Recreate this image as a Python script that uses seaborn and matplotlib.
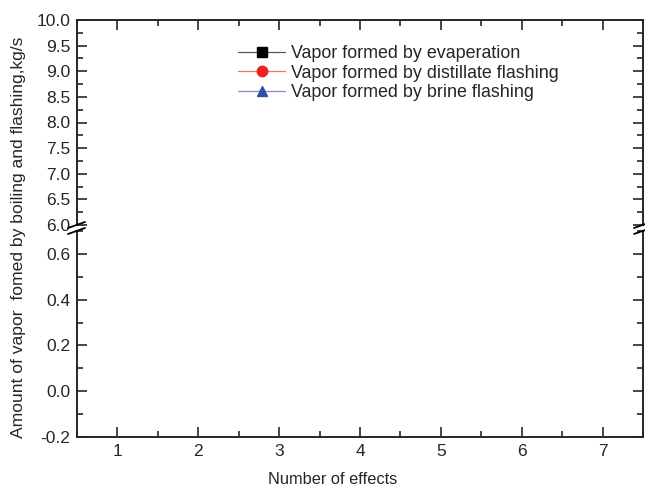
import matplotlib
matplotlib.use("Agg")
import matplotlib.pyplot as plt
import seaborn as sns
from matplotlib.ticker import MultipleLocator

# ---- data (no data points are visible in the reference chart) ----
effects = [1, 2, 3, 4, 5, 6, 7]
vapor_evaporation = []          # kg/s
vapor_distillate_flashing = []  # kg/s
vapor_brine_flashing = []       # kg/s
series_labels = ["Vapor formed by evaperation",
                 "Vapor formed by distillate flashing",
                 "Vapor formed by brine flashing"]
x_label = "Number of effects"
y_label = "Amount of vapor  fomed by boiling and flashing,kg/s"

sns.set_style("ticks")
plt.rcParams['font.family'] = ['Liberation Sans', 'DejaVu Sans']

W, H = 645, 487
fig = plt.figure(figsize=(W / 100, H / 100), dpi=100)

def fx(px):
    return px / W

def fy(py):
    return 1 - py / H

left, right = 77, 643
top_u, bot_u = 20, 225
top_l, bot_l = 231, 437
ax_u = fig.add_axes([fx(left), fy(bot_u), fx(right - left), fy(top_u) - fy(bot_u)])
ax_l = fig.add_axes([fx(left), fy(bot_l), fx(right - left), fy(top_l) - fy(bot_l)])

styles = [
    dict(mfc="#000000", marker="s", ms=6.5, lc="#555555"),
    dict(mfc="#ee2222", marker="o", ms=7.5, lc="#f07070"),
    dict(mfc="#3050a8", marker="^", ms=7.5, lc="#7d8fce"),
]
series = [vapor_evaporation, vapor_distillate_flashing, vapor_brine_flashing]
handles = []
for vals, lab, st in zip(series, series_labels, styles):
    xs = effects[:len(vals)]
    for ax in (ax_u, ax_l):
        h, = ax.plot(xs, vals, color=st["lc"], lw=0.9, marker=st["marker"],
                     mfc=st["mfc"], mec=st["mfc"], ms=st["ms"], label=lab)
    handles.append(h)

for ax in (ax_u, ax_l):
    ax.set_xlim(0.5, 7.5)
    ax.xaxis.set_major_locator(MultipleLocator(1))
    ax.xaxis.set_minor_locator(MultipleLocator(0.5))
    ax.tick_params(which="both", direction="in", top=True, right=True,
                   width=1.2, labelsize=12.5, pad=5)
    ax.tick_params(which="major", length=7)
    ax.tick_params(which="minor", length=4)
    for s in ax.spines.values():
        s.set_linewidth(1.4)
    ax.set_facecolor("none")

ax_u.set_ylim(6.0, 10.0)
ax_u.yaxis.set_major_locator(MultipleLocator(0.5))
ax_u.yaxis.set_minor_locator(MultipleLocator(0.25))
ax_u.yaxis.set_major_formatter(plt.FormatStrFormatter("%.1f"))
ax_u.spines["bottom"].set_visible(False)
ax_u.tick_params(which="both", bottom=False, labelbottom=False)

ax_l.set_ylim(-0.2, 0.7)
ax_l.yaxis.set_major_locator(MultipleLocator(0.2))
ax_l.yaxis.set_minor_locator(MultipleLocator(0.1))
ax_l.yaxis.set_major_formatter(plt.FormatStrFormatter("%.1f"))
ax_l.spines["top"].set_visible(False)
ax_l.tick_params(which="both", top=False)

fig.text(fx(333), fy(480), x_label, ha="center", va="center", fontsize=11.8)
fig.text(fx(19), fy(237), y_label, rotation=90, ha="center", va="center",
         fontsize=12.6)

# break marks on left and right spines
for xc in (left, right):
    for yc in (bot_u, top_l):
        fig.add_artist(plt.Line2D([fx(xc - 9), fx(xc + 8)],
                                  [fy(yc + 3), fy(yc - 3)],
                                  color="black", lw=1.3,
                                  transform=fig.transFigure))

ax_u.legend(handles=handles, labels=series_labels, loc="upper left",
            bbox_to_anchor=(fx(238), fy(45)), bbox_transform=fig.transFigure,
            frameon=False, fontsize=12.9, handlelength=2.65, handletextpad=0.3,
            labelspacing=0.15, borderpad=0, borderaxespad=0)

fig.savefig("out.png", dpi=100)
